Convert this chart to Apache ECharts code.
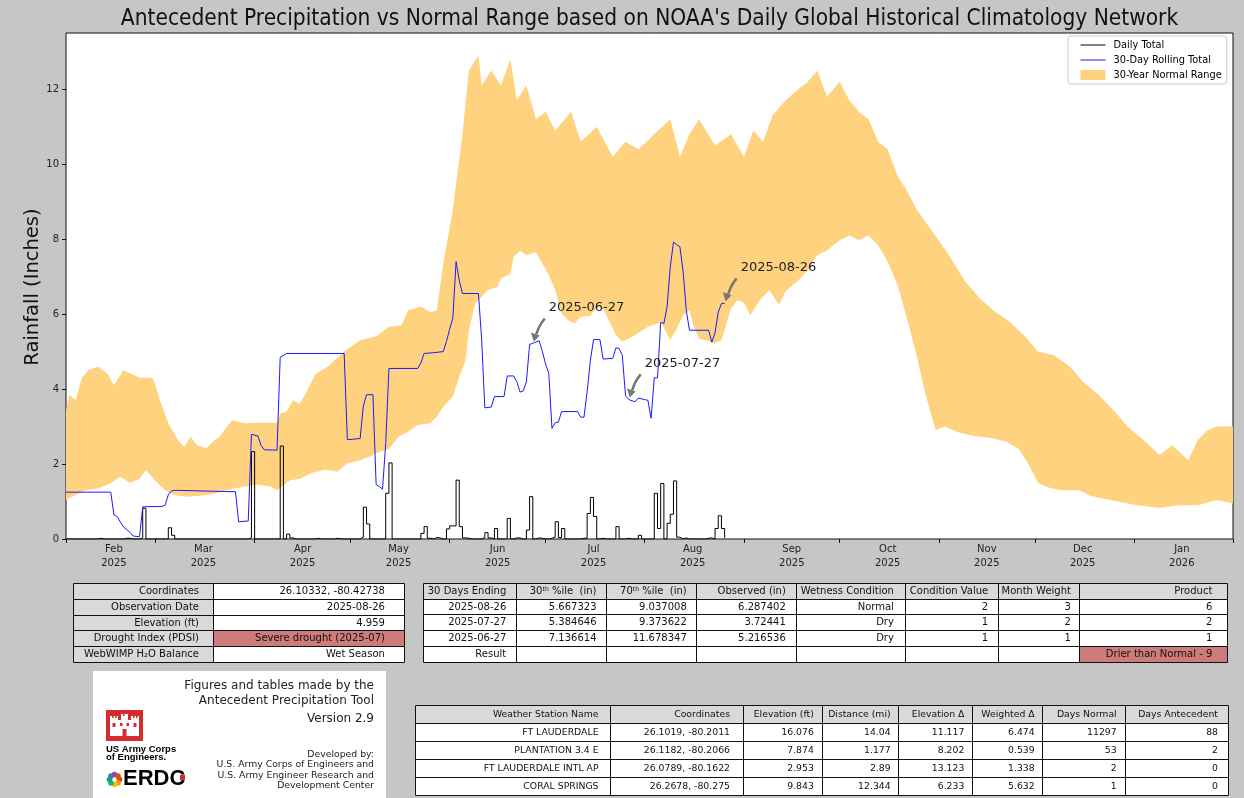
<!DOCTYPE html>
<html><head><meta charset="utf-8">
<script src="https://cdn.jsdelivr.net/npm/echarts@6.0.0/dist/echarts.min.js"></script>
<style>html,body{margin:0;padding:0;background:#c6c6c6}#c{width:1244px;height:798px}</style>
</head><body><div id="c"></div><script>
// ---------------- DATA ----------------
const dailyTotal = [
['2025-02-11',0.02],['2025-02-19',0.02],['2025-02-20',0.02],['2025-02-24',0.03],['2025-02-25',0.82],
['2025-03-05',0.3],['2025-03-06',0.1],['2025-03-30',0.03],['2025-03-31',2.33],
['2025-04-09',2.48],['2025-04-11',0.13],['2025-04-12',0.03],['2025-04-20',0.02],['2025-04-26',0.02],
['2025-05-04',0.05],['2025-05-05',0.85],['2025-05-06',0.4],['2025-05-12',1.22],['2025-05-13',2.03],
['2025-05-23',0.15],['2025-05-24',0.33],['2025-05-25',0.02],['2025-05-27',0.04],['2025-05-28',0.03],
['2025-05-31',0.27],['2025-06-01',0.35],['2025-06-02',0.35],['2025-06-03',1.57],['2025-06-04',0.33],['2025-06-05',0.03],['2025-06-06',0.02],
['2025-06-11',0.04],['2025-06-12',0.17],['2025-06-13',0.03],['2025-06-15',0.28],['2025-06-19',0.55],['2025-06-21',0.03],['2025-06-22',0.03],
['2025-06-25',0.24],['2025-06-26',1.13],['2025-06-28',0.03],['2025-06-29',0.02],
['2025-07-02',0.02],['2025-07-03',0.05],['2025-07-04',0.46],['2025-07-05',0.04],['2025-07-06',0.28],
['2025-07-12',0.02],['2025-07-13',0.02],['2025-07-14',0.68],['2025-07-15',1.11],['2025-07-16',0.6],['2025-07-18',0.02],
['2025-07-23',0.33],['2025-07-26',0.02],['2025-07-30',0.1],
['2025-08-04',1.22],['2025-08-05',0.28],['2025-08-06',1.48],['2025-08-08',0.42],['2025-08-09',0.66],['2025-08-10',1.55],['2025-08-11',0.05],['2025-08-13',0.03],
['2025-08-20',0.02],['2025-08-21',0.03],['2025-08-23',0.28],['2025-08-24',0.62],['2025-08-25',0.28],['2025-08-26',0.03]
];
const dailyStart = '2025-02-01';
const dailyEnd = '2025-08-26';

const rollingTotal = [
['2025-02-01',1.25],['2025-02-15',1.25],['2025-02-16',0.64],['2025-02-17',0.6],['2025-02-18',0.45],['2025-02-19',0.32],['2025-02-20',0.25],['2025-02-21',0.18],['2025-02-22',0.08],['2025-02-24',0.06],['2025-02-25',0.86],
['2025-03-03',0.87],['2025-03-04',0.9],['2025-03-05',1.18],['2025-03-06',1.28],['2025-03-07',1.3],['2025-03-26',1.26],['2025-03-27',0.46],['2025-03-30',0.48],['2025-03-31',2.79],
['2025-04-02',2.75],['2025-04-03',2.5],['2025-04-04',2.38],['2025-04-08',2.37],['2025-04-09',4.85],['2025-04-11',4.95],['2025-04-29',4.95],['2025-04-30',2.65],
['2025-05-04',2.68],['2025-05-05',3.55],['2025-05-06',3.85],['2025-05-08',3.85],['2025-05-09',1.45],['2025-05-10',1.4],['2025-05-11',1.33],['2025-05-12',2.55],['2025-05-13',4.55],['2025-05-22',4.55],['2025-05-23',4.7],['2025-05-24',4.95],['2025-05-27',4.97],['2025-05-30',5.0],['2025-05-31',5.27],
['2025-06-01',5.6],['2025-06-02',5.9],['2025-06-03',7.4],['2025-06-04',6.9],['2025-06-05',6.55],['2025-06-10',6.55],['2025-06-11',5.33],['2025-06-12',3.5],['2025-06-14',3.52],['2025-06-15',3.8],['2025-06-18',3.8],['2025-06-19',4.35],['2025-06-21',4.35],['2025-06-22',4.2],['2025-06-23',3.92],['2025-06-24',3.95],['2025-06-25',4.19],['2025-06-26',5.19],['2025-06-27',5.22],['2025-06-29',5.29],['2025-06-30',5.0],
['2025-07-01',4.67],['2025-07-02',4.42],['2025-07-03',2.95],['2025-07-04',3.1],['2025-07-05',3.12],['2025-07-06',3.4],['2025-07-11',3.4],['2025-07-12',3.25],['2025-07-13',3.25],['2025-07-14',3.93],['2025-07-15',4.76],['2025-07-16',5.32],['2025-07-18',5.32],['2025-07-19',4.8],['2025-07-22',4.82],['2025-07-23',5.1],['2025-07-24',5.08],['2025-07-25',4.9],['2025-07-26',3.82],['2025-07-27',3.72],['2025-07-29',3.66],['2025-07-30',3.76],
['2025-08-01',3.72],['2025-08-02',3.7],['2025-08-03',3.22],['2025-08-04',4.3],['2025-08-05',4.3],['2025-08-06',5.78],['2025-08-07',5.75],['2025-08-08',6.2],['2025-08-09',7.26],['2025-08-10',7.92],['2025-08-11',7.85],['2025-08-12',7.8],['2025-08-13',7.15],['2025-08-14',6.1],['2025-08-15',5.57],['2025-08-21',5.57],['2025-08-22',5.25],['2025-08-23',5.5],['2025-08-24',6.05],['2025-08-25',6.28],['2025-08-26',6.29]
];

const normalUpper = [
['2025-02-01',3.4],['2025-02-02',3.85],['2025-02-04',3.7],['2025-02-06',4.3],['2025-02-08',4.5],['2025-02-11',4.6],['2025-02-14',4.4],['2025-02-16',4.1],['2025-02-19',4.5],['2025-02-24',4.3],['2025-02-28',4.3],
['2025-03-01',4.1],['2025-03-02',3.8],['2025-03-05',3.09],['2025-03-08',2.64],['2025-03-10',2.46],['2025-03-12',2.73],['2025-03-14',2.5],['2025-03-17',2.43],['2025-03-19',2.6],['2025-03-21',2.73],['2025-03-23',2.96],['2025-03-25',3.17],['2025-03-29',3.09],
['2025-04-02',3.1],['2025-04-08',3.1],['2025-04-09',3.35],['2025-04-11',3.4],['2025-04-13',3.7],['2025-04-15',3.6],['2025-04-17',3.88],['2025-04-20',4.4],['2025-04-24',4.6],['2025-04-29',5.0],
['2025-05-04',5.3],['2025-05-09',5.4],['2025-05-13',5.66],['2025-05-17',5.7],['2025-05-19',6.1],['2025-05-23',6.2],['2025-05-26',6.05],['2025-05-28',6.1],['2025-05-30',7.35],
['2025-06-02',8.8],['2025-06-05',10.8],['2025-06-07',12.5],['2025-06-10',12.9],['2025-06-11',12.1],['2025-06-14',12.5],['2025-06-17',12.1],['2025-06-20',12.8],['2025-06-22',11.7],['2025-06-25',12.1],['2025-06-28',11.2],
['2025-07-01',11.4],['2025-07-04',10.9],['2025-07-09',11.4],['2025-07-12',10.6],['2025-07-17',11.0],['2025-07-22',10.2],['2025-07-26',10.6],['2025-07-30',10.4],
['2025-08-04',10.8],['2025-08-09',11.2],['2025-08-12',10.2],['2025-08-15',10.8],['2025-08-18',11.2],['2025-08-23',10.5],['2025-08-28',10.8],
['2025-09-01',10.2],['2025-09-04',10.9],['2025-09-07',10.6],['2025-09-10',11.3],['2025-09-14',11.7],['2025-09-18',12.0],['2025-09-21',12.2],['2025-09-24',12.5],['2025-09-27',11.8],
['2025-10-01',12.2],['2025-10-04',11.7],['2025-10-07',11.4],['2025-10-10',11.2],['2025-10-13',10.6],['2025-10-16',10.4],['2025-10-19',9.7],['2025-10-22',9.3],['2025-10-25',8.8],['2025-10-30',8.2],
['2025-11-04',7.6],['2025-11-09',6.9],['2025-11-14',6.4],['2025-11-18',6.1],['2025-11-23',5.8],['2025-11-28',5.4],
['2025-12-02',5.0],['2025-12-07',4.9],['2025-12-12',4.6],['2025-12-16',4.2],['2025-12-21',3.84],['2025-12-26',3.4],['2025-12-30',3.0],
['2026-01-04',2.64],['2026-01-09',2.24],['2026-01-13',2.5],['2026-01-18',2.1],['2026-01-21',2.64],['2026-01-24',2.9],['2026-01-27',3.0],['2026-02-01',3.0]
];

const normalLower = [
['2025-02-01',1.04],['2025-02-07',1.3],['2025-02-11',1.35],['2025-02-15',1.49],['2025-02-18',1.66],['2025-02-21',1.5],['2025-02-24',1.6],['2025-02-26',1.84],
['2025-03-01',1.55],['2025-03-04',1.3],['2025-03-07',1.17],['2025-03-11',1.13],['2025-03-14',1.15],['2025-03-19',1.2],['2025-03-23',1.3],['2025-03-29',1.4],
['2025-04-02',1.45],['2025-04-06',1.4],['2025-04-08',1.3],['2025-04-12',1.57],['2025-04-15',1.6],['2025-04-19',1.76],['2025-04-23',1.85],['2025-04-27',1.8],['2025-04-30',2.02],
['2025-05-04',2.1],['2025-05-07',2.2],['2025-05-10',2.33],['2025-05-13',2.4],['2025-05-16',2.73],['2025-05-19',2.86],['2025-05-22',3.04],['2025-05-26',3.09],['2025-05-28',3.26],['2025-05-30',3.53],
['2025-06-02',3.8],['2025-06-04',4.33],['2025-06-06',4.77],['2025-06-07',5.57],['2025-06-09',6.28],['2025-06-11',6.46],['2025-06-13',6.64],['2025-06-16',6.73],['2025-06-17',6.95],['2025-06-20',7.08],['2025-06-21',7.53],['2025-06-23',7.7],['2025-06-25',7.57],['2025-06-28',7.65],['2025-06-30',7.35],
['2025-07-02',7.04],['2025-07-04',6.64],['2025-07-06',6.02],['2025-07-08',5.84],['2025-07-10',5.75],['2025-07-12',5.93],['2025-07-15',5.95],['2025-07-17',6.2],['2025-07-19',6.15],['2025-07-21',5.8],['2025-07-23',5.44],['2025-07-25',5.26],['2025-07-27',5.35],['2025-07-29',5.44],
['2025-08-02',5.66],['2025-08-05',5.75],['2025-08-06',5.8],['2025-08-09',5.31],['2025-08-11',5.6],['2025-08-13',5.97],['2025-08-15',6.1],['2025-08-16',5.75],['2025-08-18',5.35],['2025-08-20',5.3],['2025-08-23',5.22],['2025-08-25',5.3],['2025-08-28',6.15],['2025-08-30',6.37],
['2025-09-01',6.3],['2025-09-03',5.97],['2025-09-06',6.37],['2025-09-09',6.64],['2025-09-12',6.24],['2025-09-14',6.6],['2025-09-18',6.9],['2025-09-21',7.17],['2025-09-24',7.57],['2025-09-27',7.7],
['2025-10-01',7.97],['2025-10-04',8.1],['2025-10-07',7.97],['2025-10-10',8.1],['2025-10-13',7.84],['2025-10-16',7.4],['2025-10-19',6.8],['2025-10-22',5.9],['2025-10-25',4.9],['2025-10-28',3.8],['2025-10-31',2.9],
['2025-11-03',3.0],['2025-11-07',2.85],['2025-11-12',2.75],['2025-11-17',2.7],['2025-11-22',2.6],['2025-11-26',2.4],['2025-11-29',2.0],
['2025-12-02',1.5],['2025-12-05',1.38],['2025-12-09',1.3],['2025-12-15',1.3],['2025-12-18',1.17],['2025-12-21',1.1],['2025-12-27',1.0],
['2026-01-02',0.9],['2026-01-09',0.83],['2026-01-15',0.9],['2026-01-21',0.9],['2026-01-27',1.04],['2026-02-01',0.95]
];

const annotationDates = ['2025-06-27','2025-07-27','2025-08-26'];
const annotationValues = [5.216536, 3.72441, 6.287402];

const axisStart = '2025-02-01';
const axisEnd = '2026-02-01';
const monthTickDates = ['2025-02-01','2025-03-01','2025-04-01','2025-05-01','2025-06-01','2025-07-01','2025-08-01','2025-09-01','2025-10-01','2025-11-01','2025-12-01','2026-01-01','2026-02-01'];
const monthLabelDates = ['2025-02-16','2025-03-16','2025-04-16','2025-05-16','2025-06-16','2025-07-16','2025-08-16','2025-09-16','2025-10-16','2025-11-16','2025-12-16','2026-01-16'];
const monthNames = ['Jan','Feb','Mar','Apr','May','Jun','Jul','Aug','Sep','Oct','Nov','Dec'];
const yTicks = [0,2,4,6,8,10,12];
const yMax = 13.5;

const titleText = "Antecedent Precipitation vs Normal Range based on NOAA's Daily Global Historical Climatology Network";
const yAxisTitle = 'Rainfall (Inches)';
const legendNames = ['Daily Total','30-Day Rolling Total','30-Year Normal Range'];

const siteTable = [
  ['Coordinates','26.10332, -80.42738'],
  ['Observation Date','2025-08-26'],
  ['Elevation (ft)','4.959'],
  ['Drought Index (PDSI)','Severe drought (2025-07)'],
  ['WebWIMP H\u2082O Balance','Wet Season']
];
const condHeader = ['30 Days Ending','30{s|th} %ile  (in)','70{s|th} %ile  (in)','Observed (in)','Wetness Condition','Condition Value','Month Weight','Product'];
const condRows = [
  ['2025-08-26','5.667323','9.037008','6.287402','Normal','2','3','6'],
  ['2025-07-27','5.384646','9.373622','3.72441','Dry','1','2','2'],
  ['2025-06-27','7.136614','11.678347','5.216536','Dry','1','1','1'],
  ['Result','','','','','','','Drier than Normal - 9']
];
const stationHeader = ['Weather Station Name','Coordinates','Elevation (ft)','Distance (mi)','Elevation \u0394','Weighted \u0394','Days Normal','Days Antecedent'];
const stationRows = [
  ['FT LAUDERDALE','26.1019, -80.2011','16.076','14.04','11.117','6.474','11297','88'],
  ['PLANTATION 3.4 E','26.1182, -80.2066','7.874','1.177','8.202','0.539','53','2'],
  ['FT LAUDERDALE INTL AP','26.0789, -80.1622','2.953','2.89','13.123','1.338','2','0'],
  ['CORAL SPRINGS','26.2678, -80.275','9.843','12.344','6.233','5.632','1','0']
];
const creditLines = ['Figures and tables made by the','Antecedent Precipitation Tool','Version 2.9'];
const devLines = ['Developed by:','U.S. Army Corps of Engineers and','U.S. Army Engineer Research and','Development Center'];

// ---------------- HELPERS ----------------
function ts(s){ const p = s.split('-').map(Number); return new Date(p[0], p[1]-1, p[2]).getTime(); }
const DAY = 86400000;
const rainMap = {};
dailyTotal.forEach(d => { rainMap[ts(d[0])] = d[1]; });
const dailySeries = [];
for (let t = ts(dailyStart); t <= ts(dailyEnd) + 3600000; t += DAY) {
  const dt = new Date(t); const key = new Date(dt.getFullYear(), dt.getMonth(), dt.getDate()).getTime();
  dailySeries.push([key, rainMap[key] || 0]);
}

const ORANGE = '#FFD280';
const BG = '#c6c6c6';
const HEAD = '#d9d9d9';
const RED = '#cd7b7b';
const FONT = '"DejaVu Sans", Verdana, sans-serif';

function txt(x, y, text, size, opts) {
  opts = opts || {};
  return { type: 'text', x: x, y: y, silent: true, z: 10,
    style: Object.assign({ text: text, fill: opts.color || '#111', font: (opts.weight ? opts.weight + ' ' : '') + size + 'px ' + (opts.family || FONT),
      align: opts.align || 'left', textAlign: opts.align || 'left', verticalAlign: 'middle', textVerticalAlign: 'middle' }, opts.extra || {}) };
}
function buildTable(x0, y0, widths, rowH, rows, fillFn, fontSize, pads) {
  const els = [];
  let y = y0;
  rows.forEach((row, r) => {
    let x = x0;
    row.forEach((cell, c) => {
      const w = widths[c];
      els.push({ type: 'rect', z: 9, silent: true, shape: { x: Math.round(x) + 0.5, y: Math.round(y) + 0.5, width: Math.round(x + w) - Math.round(x), height: Math.round(y + rowH) - Math.round(y) },
        style: { fill: fillFn(r, c), stroke: '#111', lineWidth: 1 } });
      if (cell !== '') {
        const pad = pads && pads[c] != null ? pads[c] : 0.1 * w;
        els.push(txt(x + w - pad, y + rowH / 2 + 0.5, cell, fontSize, { align: 'right', extra: { rich: { s: { fontSize: fontSize * 0.62, verticalAlign: 'top', fill: '#111', fontFamily: FONT } } } }));
      }
      x += w;
    });
    y += rowH;
  });
  return els;
}

// ---------------- GRAPHICS ----------------
const graphics = [];
graphics.push(txt(649.5, 19, titleText, 22.5, { align: 'center', family: '"DejaVu Sans Condensed", "DejaVu Sans", sans-serif' }));
graphics.push({ type: 'text', x: 33, y: 287, rotation: Math.PI / 2, silent: true,
  style: { text: yAxisTitle, font: '19.5px ' + FONT, fill: '#111', align: 'center', textAlign: 'center', verticalAlign: 'middle', textVerticalAlign: 'middle' } });

graphics.push(...buildTable(73, 583, [140, 191], 15.8, siteTable, (r, c) => c === 0 ? HEAD : (r === 3 ? RED : '#fff'), 10));
graphics.push(...buildTable(423, 583, [92.5, 90, 90.3, 100, 109, 92.7, 81.6, 148], 15.7, [condHeader].concat(condRows),
  (r, c) => r === 0 ? HEAD : ((r === 4 && c === 7) ? RED : '#fff'), 10));
graphics.push(...buildTable(415, 705, [195, 133.3, 78.4, 76.6, 73.4, 70, 83.3, 103.3], 18, [stationHeader].concat(stationRows),
  (r, c) => r === 0 ? HEAD : '#fff', 9.3, [11.5]));

// credit box
graphics.push({ type: 'rect', silent: true, z: 8, shape: { x: 93, y: 671, width: 293, height: 130 }, style: { fill: '#fff' } });
[686.3, 701.3, 718.7].forEach((yy, i) => graphics.push(txt(374, yy, creditLines[i], 12, { align: 'right', color: '#222' })));
[754.7, 764.9, 775.5, 785.9].forEach((yy, i) => graphics.push(txt(374, yy, devLines[i], 9.3, { align: 'right', color: '#222' })));
// castle logo
const castle = [
  { type: 'rect', shape: { x: 106, y: 710, width: 37, height: 31 }, style: { fill: '#d42b2b' } },
  { type: 'rect', shape: { x: 110, y: 716, width: 8, height: 20 }, style: { fill: '#fff' } },
  { type: 'rect', shape: { x: 131, y: 716, width: 8, height: 20 }, style: { fill: '#fff' } },
  { type: 'rect', shape: { x: 118, y: 720, width: 13, height: 16 }, style: { fill: '#fff' } },
  { type: 'rect', shape: { x: 121, y: 714, width: 7, height: 7 }, style: { fill: '#fff' } },
  { type: 'rect', shape: { x: 112, y: 716, width: 1.5, height: 2 }, style: { fill: '#d42b2b' } },
  { type: 'rect', shape: { x: 115, y: 716, width: 1.5, height: 2 }, style: { fill: '#d42b2b' } },
  { type: 'rect', shape: { x: 133, y: 716, width: 1.5, height: 2 }, style: { fill: '#d42b2b' } },
  { type: 'rect', shape: { x: 136, y: 716, width: 1.5, height: 2 }, style: { fill: '#d42b2b' } },
  { type: 'rect', shape: { x: 123, y: 714, width: 1.5, height: 2 }, style: { fill: '#d42b2b' } },
  { type: 'rect', shape: { x: 122.5, y: 729, width: 4, height: 7 }, style: { fill: '#d42b2b' } },
  { type: 'rect', shape: { x: 112.5, y: 723, width: 3, height: 4 }, style: { fill: '#d42b2b' } },
  { type: 'rect', shape: { x: 133.5, y: 723, width: 3, height: 4 }, style: { fill: '#d42b2b' } },
  { type: 'rect', shape: { x: 120, y: 723, width: 2.5, height: 3 }, style: { fill: '#d42b2b' } },
  { type: 'rect', shape: { x: 126.5, y: 723, width: 2.5, height: 3 }, style: { fill: '#d42b2b' } }
];
castle.forEach(e => { e.silent = true; e.z = 11; graphics.push(e); });
graphics.push(txt(106, 749, 'US Army Corps', 9.5, { weight: 'bold', family: '"Liberation Sans", Arial, sans-serif', color: '#000' }));
graphics.push(txt(106, 757.5, 'of Engineers.', 9.5, { weight: 'bold', family: '"Liberation Sans", Arial, sans-serif', color: '#000' }));
const petals = ['#e63b2e', '#f39c12', '#f1c40f', '#27ae60', '#16a085', '#2980b9', '#8e44ad', '#d35400'];
petals.forEach((col, i) => {
  const a = i / petals.length * Math.PI * 2;
  graphics.push({ type: 'circle', silent: true, z: 11, shape: { cx: 114.5 + Math.cos(a) * 5, cy: 779.5 + Math.sin(a) * 5, r: 2.8 }, style: { fill: col } });
});
graphics.push(txt(123, 779, 'ERDC', 22, { weight: 'bold', family: '"Liberation Sans", Arial, sans-serif', color: '#000' }));
graphics.push({ type: 'rect', silent: true, z: 11, shape: { x: 180, y: 775, width: 5, height: 5 }, style: { fill: '#d42b2b' } });

// ---------------- CHART ----------------
const chart = echarts.init(document.getElementById('c'), null, { renderer: 'canvas' });
const option = {
  backgroundColor: BG,
  animation: false,
  textStyle: { fontFamily: FONT },
  grid: { left: 66, top: 33, width: 1167, height: 506, show: true, backgroundColor: '#fff', borderColor: '#111', borderWidth: 1, containLabel: false },
  legend: {
    left: 1068, top: 36, orient: 'vertical', backgroundColor: '#fff', borderColor: '#cccccc', borderWidth: 1, borderRadius: 3,
    padding: [4, 5, 4, 12], itemGap: 5, itemWidth: 25, itemHeight: 10,
    textStyle: { fontSize: 9.8, fontFamily: FONT, color: '#000', padding: [0, 0, 0, 3] },
    data: [
      { name: legendNames[0], itemStyle: { opacity: 0 }, lineStyle: { color: '#000', width: 1 } },
      { name: legendNames[1], itemStyle: { opacity: 0 }, lineStyle: { color: '#1a1aff', width: 1 } },
      { name: legendNames[2], icon: 'rect' }
    ]
  },
  xAxis: {
    type: 'value', min: ts(axisStart), max: ts(axisEnd),
    axisLine: { show: false }, splitLine: { show: false },
    axisTick: { show: true, length: 4, lineStyle: { color: '#111' }, customValues: monthTickDates.map(ts) },
    axisLabel: { customValues: monthLabelDates.map(ts), fontSize: 10, color: '#222', margin: 3, lineHeight: 14, hideOverlap: false,
      formatter: v => { const d = new Date(v); return monthNames[d.getMonth()] + '\n' + d.getFullYear(); } }
  },
  yAxis: {
    type: 'value', min: 0, max: yMax,
    axisLine: { show: false }, splitLine: { show: false },
    axisTick: { show: true, length: 4, lineStyle: { color: '#111' }, customValues: yTicks },
    axisLabel: { customValues: yTicks, fontSize: 10, color: '#222', margin: 7 }
  },
  graphic: graphics,
  series: [
    { type: 'custom', name: legendNames[2], z: 1, silent: true, clip: true,
      itemStyle: { color: ORANGE },
      encode: { x: 0, y: 1 },
      data: [[ts(axisStart), 0]],
      renderItem: function (params, api) {
        const up = normalUpper.map(p => api.coord([ts(p[0]), p[1]]));
        const lo = normalLower.map(p => api.coord([ts(p[0]), p[1]])).reverse();
        return { type: 'polygon', shape: { points: up.concat(lo) }, style: { fill: ORANGE } };
      } },
    { type: 'line', name: legendNames[0], z: 3, step: 'end', symbol: 'none', silent: true,
      lineStyle: { color: '#000', width: 1 }, itemStyle: { color: '#000' }, data: dailySeries },
    { type: 'line', name: legendNames[1], z: 4, symbol: 'none', silent: true,
      lineStyle: { color: '#1a1aff', width: 1 }, itemStyle: { color: '#1a1aff' }, data: rollingTotal.map(p => [ts(p[0]), p[1]]) },
    { type: 'custom', name: 'annotations', z: 5, silent: true, clip: false,
      encode: { x: 0, y: 1 },
      data: annotationDates.map((d, i) => [ts(d), annotationValues[i]]),
      renderItem: function (params, api) {
        const p = api.coord([api.value(0), api.value(1)]);
        const label = annotationDates[params.dataIndex];
        const gray = '#777';
        return { type: 'group', children: [
          { type: 'bezierCurve', shape: { x1: p[0] + 12, y1: p[1] - 25, cpx1: p[0] + 6, cpy1: p[1] - 18, x2: p[0] + 3.5, y2: p[1] - 9 },
            style: { stroke: gray, lineWidth: 2.6, fill: null } },
          { type: 'polygon', shape: { points: [[p[0] + 1, p[1] - 2], [p[0] - 1.8, p[1] - 11], [p[0] + 7, p[1] - 8]] }, style: { fill: gray } },
          { type: 'text', x: p[0] + 16, y: p[1] - 36, style: { text: label, font: '13px ' + FONT, fill: '#222', verticalAlign: 'middle', textVerticalAlign: 'middle' } }
        ] };
      } }
  ]
};
chart.setOption(option);
</script></body></html>
